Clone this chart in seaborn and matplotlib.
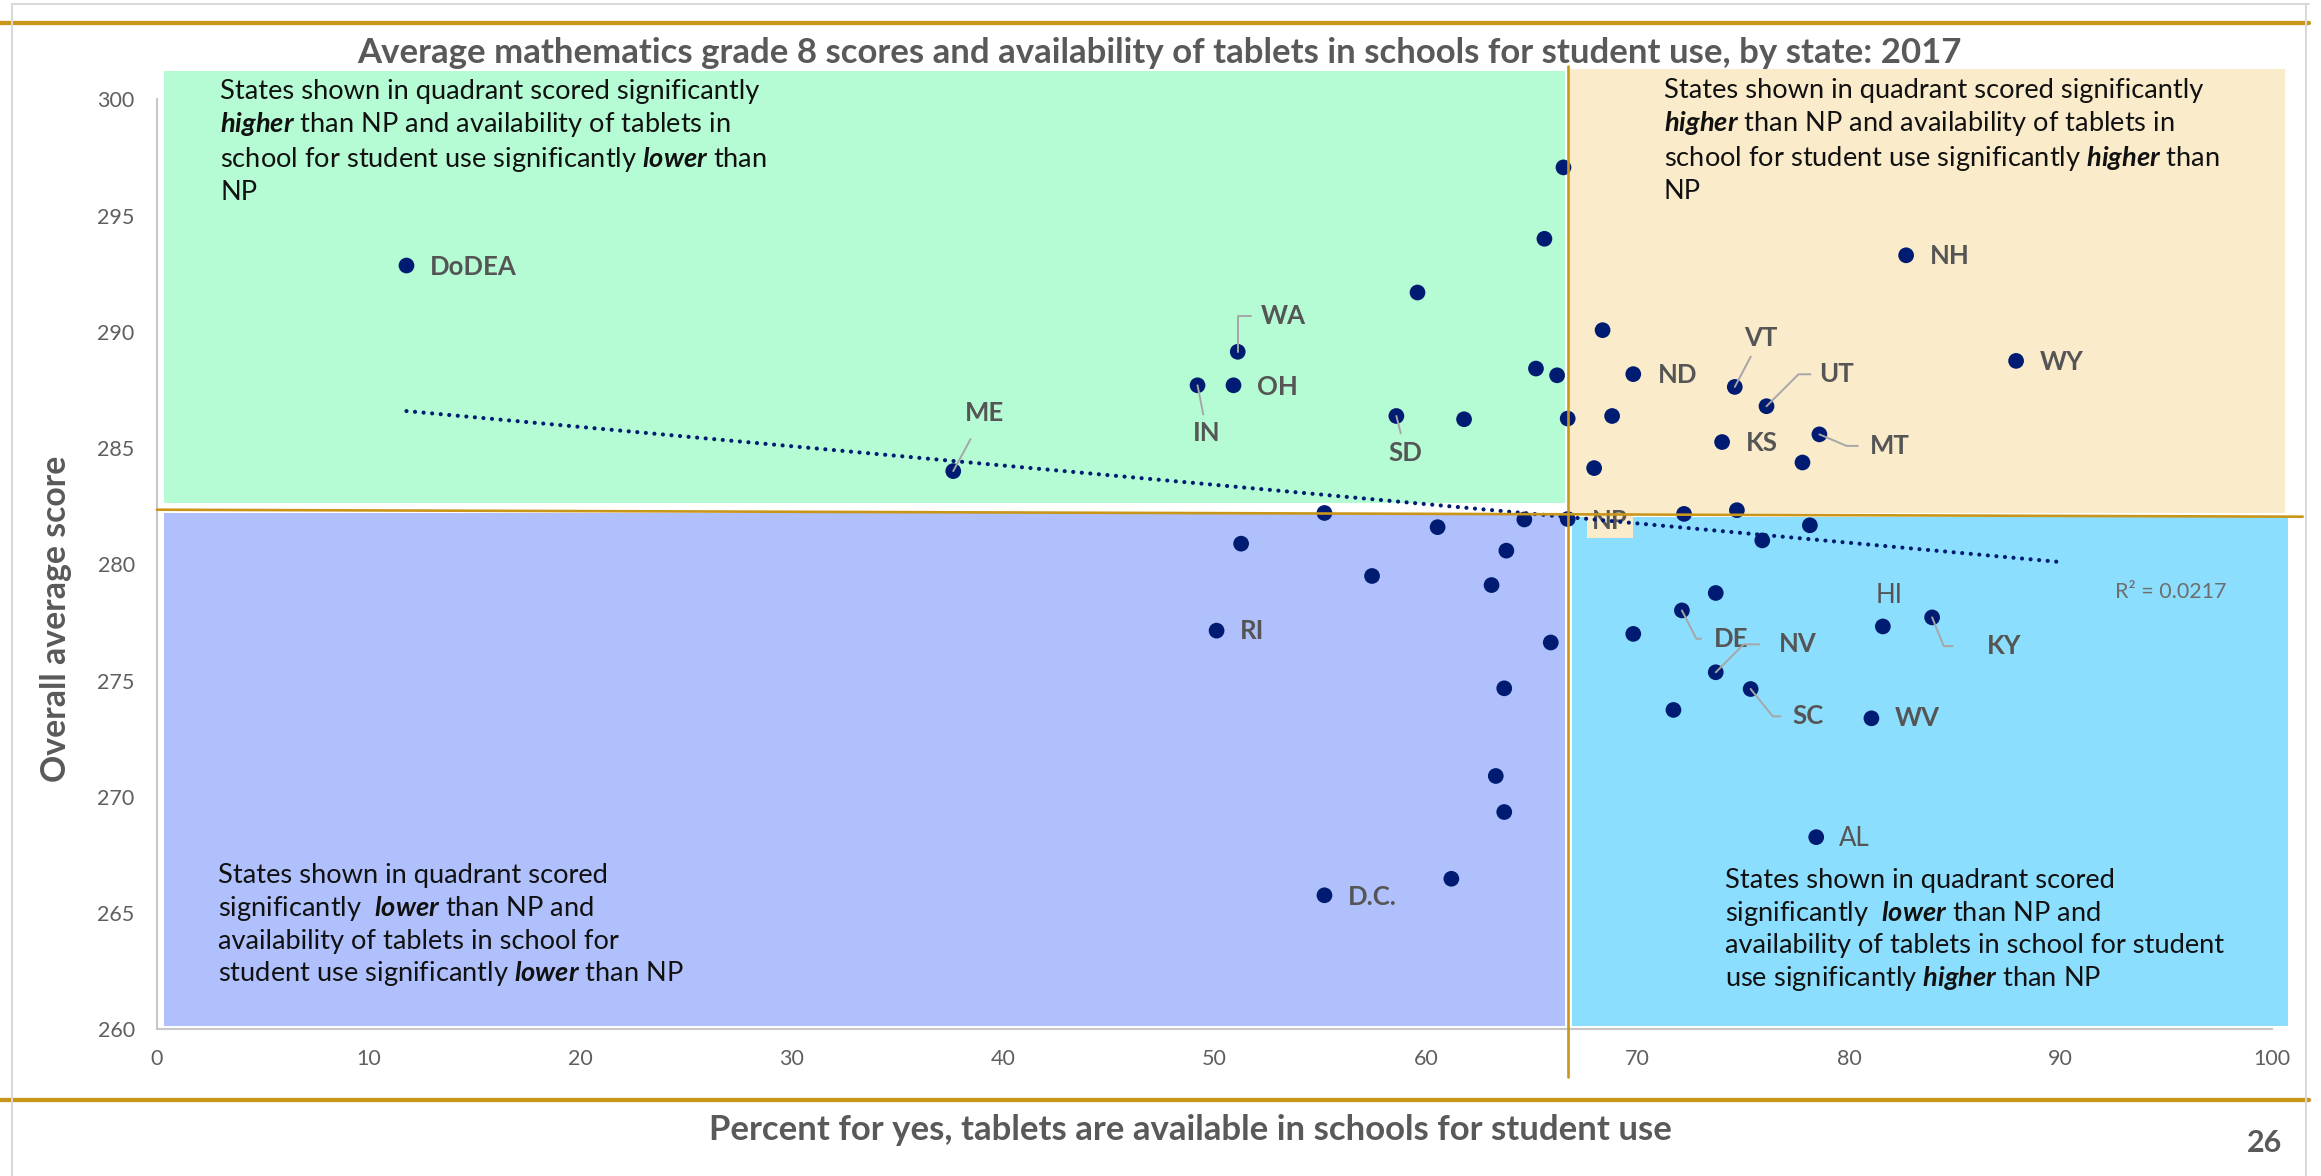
import numpy as np
import pandas as pd
import seaborn as sns
import matplotlib.pyplot as plt
from matplotlib.patches import Rectangle

# values: percent of schools with tablets vs. grade 8 math score
labels = ["DoDEA", "ME", "IN", "OH", "WA", "RI", "", "SD", "", "",
          "", "D.C.", "", "", "", "", "", "", "", "",
          "", "", "", "", "", "", "", "NP", "", "",
          "", "ND", "", "", "", "DE", "", "NV", "KS", "VT",
          "", "SC", "", "UT", "", "", "MT", "AL", "WV", "HI",
          "NH", "KY", "WY"]
pct = [11.8, 37.65, 49.2, 50.9, 51.1, 50.1, 51.26, 58.6, 59.6, 61.8,
       55.2, 55.2, 57.45, 60.55, 61.2, 63.1, 63.3, 63.7, 63.7, 63.8,
       64.65, 65.9, 65.2, 65.6, 66.2, 66.5, 66.7, 66.7, 67.95, 68.35,
       68.8, 69.8, 69.8, 71.7, 72.2, 72.1, 73.7, 73.7, 74.0, 74.6,
       74.7, 75.35, 75.9, 76.1, 77.8, 78.15, 78.6, 78.45, 81.06, 81.6,
       82.7, 83.93, 87.9]
score = [292.85, 284.01, 287.7, 287.7, 289.14, 277.15, 280.89, 286.38, 291.69, 286.24,
         282.21, 265.77, 279.5, 281.6, 266.48, 279.11, 270.9, 269.35, 274.67, 280.59,
         281.93, 276.64, 288.42, 294.0, 288.13, 297.07, 286.27, 281.95, 284.14, 290.07,
         286.38, 288.18, 277.01, 273.74, 282.17, 278.02, 278.77, 275.36, 285.26, 287.63,
         282.33, 274.64, 281.03, 286.8, 284.38, 281.68, 285.59, 268.27, 273.38, 277.33,
         293.29, 277.72, 288.75]

x_ticks = list(range(0, 101, 10))
y_ticks = list(range(260, 301, 5))
r2_text = "R² = 0.0217"
title = ("Average mathematics grade 8 scores and availability of tablets in "
         "schools for student use, by state: 2017")
x_title = "Percent for yes, tablets are available in schools for student use"
y_title = "Overall average score"
page_no = "26"

ul_text = ("States shown in quadrant scored significantly\n"
           "$\\mathbfit{higher}$ than NP and availability of tablets in\n"
           "school for student use significantly $\\mathbfit{lower}$ than\n"
           "NP")
ur_text = ("States shown in quadrant scored significantly\n"
           "$\\mathbfit{higher}$ than NP and availability of tablets in\n"
           "school for student use significantly $\\mathbfit{higher}$ than\n"
           "NP")
ll_text = ("States shown in quadrant scored\n"
           "significantly  $\\mathbfit{lower}$ than NP and\n"
           "availability of tablets in school for\n"
           "student use significantly $\\mathbfit{lower}$ than NP")
lr_text = ("States shown in quadrant scored\n"
           "significantly  $\\mathbfit{lower}$ than NP and\n"
           "availability of tablets in school for student\n"
           "use significantly $\\mathbfit{higher}$ than NP")

# label placement: offset in points, anchor, leader kind, leader angle, gap
label_pos = {
    "DoDEA": (17, -1, "left", None, 0, 0),
    "OH": (16.6, -1, "left", None, 0, 0),
    "WA": (16.7, 26, "left", "angle", 90, 5),
    "IN": (6.7, -34, "center", "line", None, 2),
    "ME": (22.7, 42, "center", "line", None, 9),
    "SD": (6.7, -26.4, "center", "line", None, 3),
    "ND": (17.6, -0.7, "left", None, 0, 0),
    "VT": (18.7, 35.5, "center", "line", None, 3),
    "UT": (38, 23, "left", "angle", 45, 4),
    "KS": (17.4, -1, "left", None, 0, 0),
    "MT": (36, -8.3, "left", "angle", -23, 6),
    "NP": (17.4, -1.6, "left", None, 0, 0),
    "HI": (4.5, 22.2, "center", None, 0, 0),
    "KY": (39.2, -20.7, "left", "angle", -68, 22),
    "DE": (23.1, -20.4, "left", "angle", -63, 7),
    "NV": (45.7, 20.1, "left", "angle", 45, 12),
    "SC": (29.7, -19.7, "left", "angle", -51, 6),
    "WV": (17, 0, "left", None, 0, 0),
    "AL": (16.6, -1, "left", None, 0, 0),
    "RI": (16.5, -0.6, "left", None, 0, 0),
    "D.C.": (17, -1.3, "left", None, 0, 0),
    "NH": (17, -0.6, "left", None, 0, 0),
    "WY": (17, -0.5, "left", None, 0, 0),
}
plain_labels = ["AL", "HI"]

navy = "#001C72"
gold = "#C9961A"
label_grey = "#555555"
tick_grey = "#5F5F5F"

sns.set_theme(style="white")
plt.rcParams["font.family"] = ["Lato", "DejaVu Sans"]
plt.rcParams["mathtext.fontset"] = "custom"
plt.rcParams["mathtext.rm"] = "Lato"
plt.rcParams["mathtext.it"] = "Lato:italic"
plt.rcParams["mathtext.bf"] = "Lato:bold"
plt.rcParams["mathtext.bfit"] = "Lato:italic:bold"

df = pd.DataFrame({"state": labels, "pct": pct, "score": score})
np_x = df.loc[df.state == "NP", "pct"].iloc[0]
np_y = df.loc[df.state == "NP", "score"].iloc[0]

fig = plt.figure(figsize=(23.21, 11.76), dpi=100)
ax = fig.add_axes([0.0676, 0.1246, 0.9113, 0.7910])
ax.set_xlim(0, 100)
ax.set_ylim(260, 300)

# quadrant backgrounds
quads = [
    (0.34, np_y + 0.68, np_x - 0.12, 301.2, "#B5FCD4"),
    (np_x + 0.1, np_y + 0.27, 100.63, 301.3, "#FAEBCB"),
    (0.34, 260.15, np_x - 0.12, np_y + 0.25, "#AFC0FC"),
    (np_x + 0.22, 260.15, 100.75, np_y + 0.08, "#8CDEFE"),
]
for x0, y0, x1, y1, c in quads:
    ax.add_patch(Rectangle((x0, y0), x1 - x0, y1 - y0, facecolor=c,
                           edgecolor="none", clip_on=False, zorder=0))

# reference lines through the national public value
ax.plot([np_x, np_x], [257.97, 301.43], color=gold, lw=1.9, clip_on=False, zorder=5)
ax.plot([0, 101.45], [np_y + 0.4, np_y + 0.1], color=gold, lw=1.9, clip_on=False, zorder=5)

sns.scatterplot(data=df, x="pct", y="score", color=navy, s=128, edgecolor="none",
                ax=ax, zorder=3, legend=False)

# linear trend (extended forward to 90 like the excel trendline)
coef = np.polyfit(df.pct, df.score, 1)
tx = np.array([df.pct.min(), 90])
ax.plot(tx, np.polyval(coef, tx), color=navy, lw=3.0, linestyle=(0, (0.01, 2.05)),
        dash_capstyle="round", zorder=4)

for _, row in df.iterrows():
    if row.state not in label_pos:
        continue
    dx, dy, ha, kind, ang, gap = label_pos[row.state]
    kw = {}
    if kind == "angle":
        kw["arrowprops"] = dict(arrowstyle="-", color="#A6A6A6", lw=1.4, shrinkA=gap, shrinkB=0,
                                connectionstyle=f"angle,angleA=0,angleB={ang},rad=0")
    elif kind == "line":
        kw["arrowprops"] = dict(arrowstyle="-", color="#A6A6A6", lw=1.4, shrinkA=gap, shrinkB=0)
    if row.state == "NP":
        kw["bbox"] = dict(boxstyle="square,pad=0.2", facecolor="#FAEBCB", edgecolor="none")
    ax.annotate(row.state, (row.pct, row.score), xytext=(dx, dy), textcoords="offset points",
                ha=ha, va="center", fontsize=18.5, color=label_grey,
                fontweight="normal" if row.state in plain_labels else "bold",
                zorder=3.5, **kw)

ax.text(92.58, 278.83, r2_text, fontsize=15.5, color="#6E6E6E", va="center", ha="left")

qkw = dict(fontsize=19.6, color="#111111", va="top", ha="left", linespacing=1.27, zorder=2)
ax.text(3.0, 300.85, ul_text, **qkw)
ax.text(71.24, 300.9, ur_text, **qkw)
ax.text(2.88, 267.15, ll_text, **qkw)
ax.text(74.14, 266.95, lr_text, **qkw)

ax.set_xticks(x_ticks)
ax.set_yticks(y_ticks)
ax.tick_params(axis="both", length=0, labelsize=15.5, labelcolor=tick_grey)
ax.tick_params(axis="x", pad=14)
ax.tick_params(axis="y", pad=16)
ax.set_xlabel("")
ax.set_ylabel("")
for s in ["top", "right"]:
    ax.spines[s].set_visible(False)
for s in ["left", "bottom"]:
    ax.spines[s].set_color("#C8C8C8")
    ax.spines[s].set_linewidth(1.5)

# slide furniture
fig.text(0.4993, 0.955, title, ha="center", va="center", fontsize=25,
         fontweight="bold", color="#595959")
fig.text(0.5127, 0.0391, x_title, ha="center", va="center", fontsize=25,
         fontweight="bold", color="#595959")
fig.text(0.0243, 0.474, y_title, ha="center", va="center", rotation=90, fontsize=24.3,
         fontweight="bold", color="#595959")
fig.text(0.9757, 0.0278, page_no, ha="center", va="center", fontsize=22,
         fontweight="bold", color="#595959")
fig.add_artist(plt.Line2D([0, 0.995], [0.9804, 0.9804], color=gold, lw=3.1))
fig.add_artist(plt.Line2D([0, 0.995], [0.0646, 0.0646], color=gold, lw=3.1))
fig.add_artist(plt.Line2D([0.005, 0.995], [0.9966, 0.9966], color="#D9D9D9", lw=1.5))
fig.add_artist(plt.Line2D([0.005, 0.005], [0, 0.9966], color="#D9D9D9", lw=1.5))
fig.add_artist(plt.Line2D([0.9935, 0.9935], [0, 0.9966], color="#D9D9D9", lw=1.5))

fig.savefig("out.png", dpi=100)
